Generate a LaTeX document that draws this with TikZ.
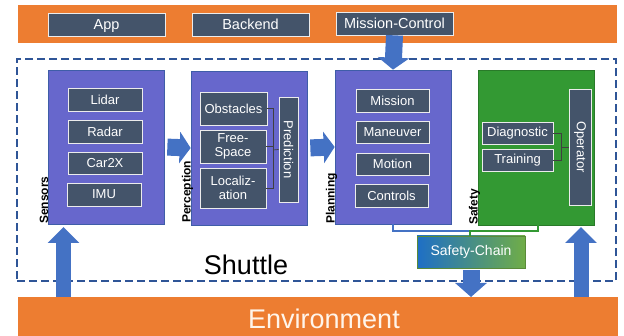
\documentclass[tikz,border=0pt]{standalone}
\usepackage{fontspec}
\setmainfont{Liberation Sans}
\usetikzlibrary{arrows.meta}
\definecolor{orangebar}{HTML}{ED7D31}
\definecolor{slate}{HTML}{44546A}
\definecolor{purplebox}{HTML}{6767CC}
\definecolor{purpleedge}{HTML}{3F5DA8}
\definecolor{greenbox}{HTML}{339933}
\definecolor{arrowblue}{HTML}{4472C4}
\definecolor{dashblue}{HTML}{2F5597}
\definecolor{chainblue}{HTML}{1E6FC6}
\definecolor{chaingreen}{HTML}{70AD47}
\tikzset{
  darkbox/.style={draw=white!85!gray, line width=0.7pt, fill=slate, text=white,
    font=\fontsize{13}{14}\selectfont, inner sep=0pt, align=center},
  topbox/.style={darkbox, minimum width=117pt, minimum height=23pt, text depth=0pt, font=\fontsize{14.5}{15}\selectfont},
  stagebox/.style={draw=purpleedge, line width=0.7pt, fill=purplebox, minimum width=116pt, minimum height=154pt, inner sep=0pt},
  stagelabel/.style={rotate=90, anchor=base west, inner sep=0pt, font=\fontsize{12}{12}\selectfont\bfseries},
  bracket/.style={draw=black!75, line width=0.7pt},
  blockarrow/.style 2 args={draw=arrowblue, line width=#1, -{Triangle[length=#2,width=31pt]}},
}
\begin{document}
\begin{tikzpicture}[x=1pt,y=-1pt]
\useasboundingbox (0,0) rectangle (624,336);
% top bar
\node[fill=orangebar, minimum width=599pt, minimum height=38pt, inner sep=0pt, anchor=north west] (top) at (18,5) {};
\node[topbox] (app) at (106.5,24.5) {App};
\node[topbox] (backend) at (250.5,24.5) {Backend};
\node[topbox] (mc) at (394.5,23.5) {Mission-Control};
% environment
\node[fill=orangebar, minimum width=600pt, minimum height=40pt, inner sep=0pt, anchor=north west] (env) at (18,297) {};
\node[text=white!92!orange, font=\fontsize{27}{28}\selectfont] (envtext) at (324,319) {Environment};
% shuttle dashed border
\node[draw=dashblue, line width=2.4pt, dash pattern=on 8pt off 4pt, minimum width=599pt, minimum height=222pt,
  inner sep=0pt, anchor=north west] (shuttle) at (16,58) {};
\node[font=\fontsize{27}{28}\selectfont, inner sep=0pt] (shuttlelabel) at (246,265) {Shuttle};
% sensors
\node[stagebox] (sensors) at (106,147) {};
\node[darkbox, minimum width=74pt, minimum height=23pt] (lidar) at (105,99.5) {Lidar};
\node[darkbox, minimum width=74pt, minimum height=23pt] (radar) at (105,131.5) {Radar};
\node[darkbox, minimum width=74pt, minimum height=22pt] (car2x) at (105,163) {Car2X};
\node[darkbox, minimum width=74pt, minimum height=23pt] (imu) at (104,194.5) {IMU};
\node[stagelabel] (sensorslabel) at (48,224) {Sensors};
% perception
\node[stagebox] (perception) at (249,148) {};
\node[darkbox, minimum width=67pt, minimum height=33pt] (obst) at (233.5,108.5) {Obstacles};
\node[darkbox, minimum width=66pt, minimum height=33pt] (fs) at (233,146.5) {Free-\\Space};
\node[darkbox, minimum width=66pt, minimum height=40pt] (loc) at (233,188) {Localiz-\\ation};
\node[darkbox, minimum width=19pt, minimum height=105pt] (predbox) at (288.5,149.5) {};
\node[rotate=-90, text=white, font=\fontsize{13}{14}\selectfont, inner sep=0pt] (pred) at (288.5,149.5) {Prediction};
\node[stagelabel] (perclabel) at (190.5,223) {Perception};
\coordinate (pj) at (273,150);
\draw[bracket] (obst.east) -| (pj);
\draw[bracket] (fs.east) -| (pj);
\draw[bracket] (loc.east) -| (pj);
\draw[bracket] (pj) -- (predbox.west);
% planning
\node[stagebox] (planning) at (393,147) {};
\node[darkbox, minimum width=73pt, minimum height=23pt] (mission) at (392.5,100.5) {Mission};
\node[darkbox, minimum width=73pt, minimum height=22pt] (maneuver) at (392.5,132) {Maneuver};
\node[darkbox, minimum width=73pt, minimum height=22pt] (motion) at (392.5,164) {Motion};
\node[darkbox, minimum width=73pt, minimum height=23pt] (controls) at (391.5,195.5) {Controls};
\node[stagelabel] (planlabel) at (334.5,224) {Planning};
% safety
\node[stagebox, draw=greenbox!80!black, fill=greenbox, minimum height=155pt] (safety) at (536,147.5) {};
\node[darkbox, minimum width=71pt, minimum height=22pt] (diag) at (517.5,133) {Diagnostic};
\node[darkbox, minimum width=71pt, minimum height=22pt] (train) at (517.5,160) {Training};
\node[darkbox, minimum width=22pt, minimum height=116pt] (operbox) at (580,147) {};
\node[rotate=-90, text=white, font=\fontsize{13}{14}\selectfont, inner sep=0pt] (oper) at (580,147) {Operator};
\node[stagelabel] (safelabel) at (477.5,225) {Safety};
\coordinate (sj) at (561,147);
\draw[bracket] (diag.east) -| (sj);
\draw[bracket] (train.east) -| (sj);
\draw[bracket] (sj) -- (operbox.west);
% safety chain
\node[draw=chaingreen!80!black, line width=0.7pt, left color=chainblue, right color=chaingreen,
  minimum width=108pt, minimum height=32pt, inner sep=0pt, text=white, font=\fontsize{14}{15}\selectfont] (sc) at (471,252) {Safety-Chain};
\coordinate (scj) at (470,231);
\draw[draw=arrowblue, line width=2.2pt] (planning.south) |- (scj);
\draw[draw=greenbox, line width=2.2pt] ([xshift=2pt]safety.south) |- (scj) -- (sc.north -| scj);
% block arrows
\coordinate (sensin) at (63.5,227);
\coordinate (safein) at (581,227);
\draw[blockarrow={17pt}{12pt}] (mc.south) -- (planning.north);
\draw[blockarrow={17pt}{11pt}, shorten <=3pt] (sensors.east) -- (perception.west);
\draw[blockarrow={17pt}{11pt}, shorten <=3pt] (perception.east) -- (planning.west);
\draw[blockarrow={15pt}{16pt}] (env.north -| sensin) -- (sensin);
\draw[blockarrow={15pt}{16pt}] (env.north -| safein) -- (safein);
\draw[blockarrow={17pt}{14pt}, shorten <=2pt] (sc.south) -- (sc.south |- env.north);
\end{tikzpicture}
\end{document}
